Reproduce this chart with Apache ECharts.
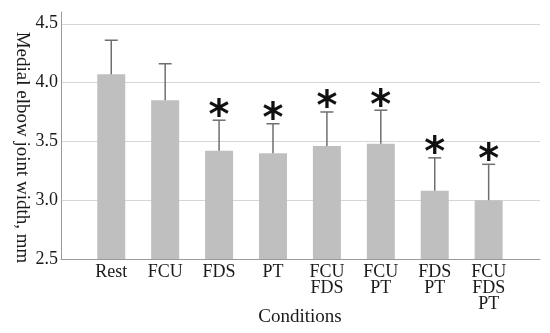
<!DOCTYPE html>
<html><head><meta charset="utf-8">
<script src="https://cdn.jsdelivr.net/npm/echarts@6/dist/echarts.min.js"></script>
<style>html,body{margin:0;padding:0;background:#fff}#c{width:550px;height:333px}</style>
</head><body><div id="c"></div>
<script>
const categories = ['Rest', 'FCU', 'FDS', 'PT', 'FCU\nFDS', 'FCU\nPT', 'FDS\nPT', 'FCU\nFDS\nPT'];
const means = [4.07, 3.85, 3.42, 3.40, 3.46, 3.48, 3.08, 3.00];
const errTops = [4.36, 4.16, 3.68, 3.65, 3.75, 3.765, 3.36, 3.305];
const significant = [false, false, true, true, true, true, true, true];
const yTicks = { min: 2.5, max: 4.6, interval: 0.5 };
const yName = 'Medial elbow joint width, mm';
const xName = 'Conditions';

const font = 'Liberation Serif';
const chart = echarts.init(document.getElementById('c'), null, { renderer: 'canvas' });
chart.setOption({
  animation: false,
  grid: [
    { left: 61, right: 10, top: 12, bottom: 74, outerBoundsMode: 'none', containLabel: false },
    { left: 84.3, right: 34.4, top: 12, bottom: 74, outerBoundsMode: 'none', containLabel: false }
  ],
  xAxis: [
    { gridIndex: 0, type: 'category', data: [''], axisLine: { lineStyle: { color: '#9a9a9a', width: 1 } },
      axisTick: { show: false }, axisLabel: { show: false } },
    { gridIndex: 1, type: 'category', data: categories, axisLine: { show: false }, axisTick: { show: false },
      axisLabel: { fontFamily: font, fontSize: 18, color: '#1a1a1a', margin: 5, lineHeight: 16 },
      name: xName, nameLocation: 'middle', nameGap: 49, nameMoveOverlap: false,
      nameTextStyle: { fontFamily: font, fontSize: 19, color: '#1a1a1a' } }
  ],
  yAxis: [
    { gridIndex: 0, type: 'value', min: yTicks.min, max: yTicks.max, interval: yTicks.interval,
      axisLine: { show: true, lineStyle: { color: '#9a9a9a', width: 1 } }, axisTick: { show: false },
      axisLabel: { fontFamily: font, fontSize: 18, color: '#1a1a1a', margin: 3, showMaxLabel: false,
        formatter: v => v.toFixed(1) },
      splitLine: { show: true, lineStyle: { color: ['#d6d6d6', '#d6d6d6', '#d6d6d6', '#d6d6d6', '#d6d6d6', 'rgba(0,0,0,0)'], width: 1 } },
      name: yName, nameLocation: 'middle', nameGap: 30, nameRotate: -90, nameMoveOverlap: false,
      nameTextStyle: { fontFamily: font, fontSize: 19, color: '#1a1a1a', padding: [0, 0, 0, 24] } },
    { gridIndex: 1, type: 'value', min: yTicks.min, max: yTicks.max, interval: yTicks.interval, show: false,
      splitLine: { show: false } }
  ],
  series: [
    { type: 'bar', xAxisIndex: 1, yAxisIndex: 1, data: means, barWidth: 28,
      itemStyle: { color: '#bfbfbf' } },
    { type: 'custom', xAxisIndex: 1, yAxisIndex: 1,
      data: means.map((m, i) => [i, m, errTops[i], significant[i] ? 1 : 0]),
      renderItem: function (params, api) {
        const i = api.value(0);
        const b = api.coord([i, api.value(1)]);
        const t = api.coord([i, api.value(2)]);
        const children = [
          { type: 'line', shape: { x1: b[0], y1: b[1], x2: t[0], y2: t[1] }, style: { stroke: '#6e6e6e', lineWidth: 1.5 } },
          { type: 'line', shape: { x1: t[0] - 6.5, y1: t[1], x2: t[0] + 6.5, y2: t[1] }, style: { stroke: '#6e6e6e', lineWidth: 1.5 } }
        ];
        if (api.value(3)) {
          children.push({ type: 'text', x: t[0], y: t[1] - 3,
            style: { text: '*', fontFamily: 'DejaVu Sans', fontWeight: 'bold', fontSize: 40, fill: '#111',
              align: 'center', verticalAlign: 'middle' } });
        }
        return { type: 'group', children: children };
      }, z: 5 }
  ]
});
</script></body></html>
